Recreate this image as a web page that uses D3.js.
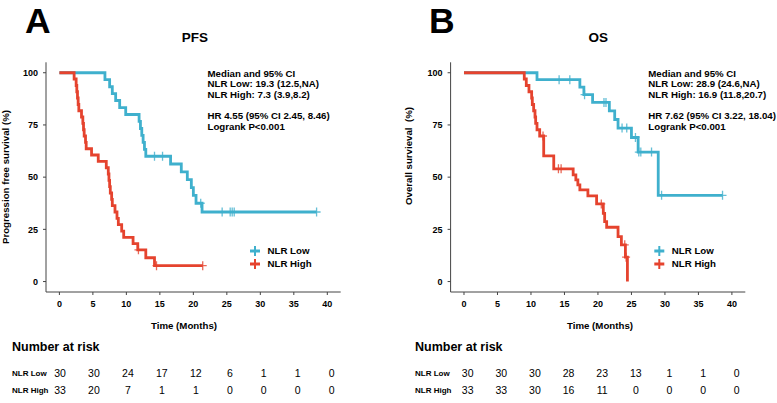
<!DOCTYPE html>
<html>
<head>
<meta charset="utf-8">
<script src="https://cdn.jsdelivr.net/npm/d3@7"></script>
<style>
  body { margin: 0; background: #fff; }
  svg { font-family: "Liberation Sans", Arial, sans-serif; }
</style>
</head>
<body>
<div id="chart"></div>
<script>
// ---- data ----
const timeTicks = [0, 5, 10, 15, 20, 25, 30, 35, 40]
const survTicks = [0, 25, 50, 75, 100]
const groups = ["NLR Low", "NLR High"]

// PFS, NLR Low (step times / survival %)
const pfsLowTime = [0, 6.8, 7.5, 7.9, 8.4, 9.0, 9.9, 11.9, 12.1, 12.3, 12.5, 12.7, 12.9, 16.6, 18.2, 19.1, 19.7, 20.0, 20.4, 21.3]
const pfsLowSurv = [100, 96.7, 93.3, 90.0, 86.7, 83.3, 80.0, 76.7, 73.3, 70.0, 66.7, 63.3, 60.0, 56.3, 52.5, 48.8, 45.0, 41.3, 37.5, 33.3]
const pfsLowCensor = [14.2, 15.4, 21.1, 24.3, 25.5, 25.8, 26.1, 38.4]

// PFS, NLR High
const pfsHighTime = [0, 2.2, 2.5, 2.6, 2.7, 2.8, 2.9, 3.3, 3.5, 3.6, 3.7, 3.9, 4.0, 4.8, 5.8, 7.0, 7.3, 7.4, 7.5, 7.6, 7.8, 7.9, 8.3, 8.6, 8.8, 9.3, 9.6, 11.0, 11.7, 12.9, 14.2]
const pfsHighSurv = [100, 97.0, 93.9, 90.9, 87.9, 84.8, 81.8, 78.8, 75.8, 72.7, 69.7, 66.7, 63.6, 60.6, 57.6, 54.5, 51.5, 48.5, 45.5, 42.4, 39.4, 36.4, 33.3, 30.3, 27.3, 24.2, 21.2, 18.2, 15.2, 11.4, 7.6]
const pfsHighCensor = [11.8, 14.5, 21.4]

// OS, NLR Low
const osLowTime = [0, 10.9, 17.3, 17.9, 19.2, 21.7, 22.5, 23.0, 25.0, 26.0, 29.0]
const osLowSurv = [100, 96.7, 93.1, 89.5, 85.8, 81.7, 77.6, 73.5, 69.0, 62.0, 41.3]
const osLowCensor = [14.2, 15.8, 18.0, 20.9, 21.2, 23.6, 24.3, 25.6, 26.1, 26.4, 28.0, 29.5, 38.6]

// OS, NLR High
const osHighTime = [0, 9.0, 9.3, 9.7, 10.1, 10.2, 10.4, 10.6, 10.7, 10.9, 11.3, 11.9, 13.4, 16.3, 16.7, 17.0, 17.3, 18.5, 19.8, 20.8, 21.0, 21.3, 23.0, 23.5, 24.1, 24.4]
const osHighSurv = [100, 97.0, 93.9, 90.9, 87.9, 84.8, 81.8, 78.8, 75.8, 72.7, 69.7, 60.2, 54.0, 51.1, 48.7, 46.3, 43.9, 41.0, 37.2, 32.7, 28.7, 26.0, 21.5, 17.6, 11.7, 0]
const osHighCensor = [11.8, 14.1, 14.5, 20.5, 24.0, 24.2]

// number at risk
const riskTimes = [0, 5, 10, 15, 20, 25, 30, 35, 40]
const riskPfsLow = [30, 30, 24, 17, 12, 6, 1, 1, 0]
const riskPfsHigh = [33, 20, 7, 1, 1, 0, 0, 0, 0]
const riskOsLow = [30, 30, 30, 28, 23, 13, 1, 1, 0]
const riskOsHigh = [33, 33, 30, 16, 11, 0, 0, 0, 0]

const notesPfs = ["Median and 95% CI", "NLR Low: 19.3 (12.5,NA)", "NLR High: 7.3 (3.9,8.2)", "", "HR 4.55 (95% CI 2.45, 8.46)", "Logrank P<0.001"]
const notesOs = ["Median and 95% CI", "NLR Low: 28.9 (24.6,NA)", "NLR High: 16.9 (11.8,20.7)", "", "HR 7.62 (95% CI 3.22, 18.04)", "Logrank P<0.001"]

// ---- drawing ----
let width = 777, height = 403
let colors = ["#3FB0CD", "#E5432E"]

let svg = d3.select("#chart")
    .append("svg")
    .attr("width", width)
    .attr("height", height)

let y = d3.scaleLinear().domain([-5, 105]).range([292, 62.3])

function stepValue(times, surv, t) {
    let v = surv[0]
    for (let i = 0; i < times.length; i++) {
        if (times[i] <= t) v = surv[i]
    }
    return v
}

function drawPanel(p) {
    let x = d3.scaleLinear().domain([-2, 42]).range([p.ox, p.ox + 294.7])
    let g = svg.append("g")

    // panel letter and title
    g.append("text").attr("x", p.letterX).attr("y", 32.5)
        .attr("font-size", 35.5).attr("font-weight", "bold").text(p.letter)
    g.append("text").attr("x", p.titleX).attr("y", 41.5).attr("text-anchor", "middle")
        .attr("font-size", 13.5).attr("font-weight", "bold").text(p.title)

    // axes
    g.append("line").attr("x1", p.ox).attr("x2", p.ox).attr("y1", y(105)).attr("y2", y(-5))
        .attr("stroke", "#444").attr("stroke-width", 1)
    g.append("line").attr("x1", p.ox).attr("x2", x(42)).attr("y1", y(-5)).attr("y2", y(-5))
        .attr("stroke", "#444").attr("stroke-width", 1)

    g.selectAll(".ytick").data(survTicks).enter().append("line")
        .attr("x1", p.ox - 3).attr("x2", p.ox)
        .attr("y1", d => y(d)).attr("y2", d => y(d))
        .attr("stroke", "#444")
    g.selectAll(".ylab").data(survTicks).enter().append("text")
        .attr("x", p.ox - 8).attr("y", d => y(d)).attr("dy", "0.35em")
        .attr("text-anchor", "end").attr("font-size", 9).attr("font-weight", "bold")
        .text(d => d)

    g.selectAll(".xtick").data(timeTicks).enter().append("line")
        .attr("x1", d => x(d)).attr("x2", d => x(d))
        .attr("y1", y(-5)).attr("y2", y(-5) + 3)
        .attr("stroke", "#444")
    g.selectAll(".xlab").data(timeTicks).enter().append("text")
        .attr("x", d => x(d)).attr("y", 306.5)
        .attr("text-anchor", "middle").attr("font-size", 9).attr("font-weight", "bold")
        .text(d => d)

    g.append("text").attr("x", p.xLabelX).attr("y", 328.5).attr("text-anchor", "middle")
        .attr("font-size", 9.7).attr("font-weight", "bold").text("Time (Months)")
    g.append("text")
        .attr("transform", "translate(" + p.yLabelX + "," + p.yLabelY + ") rotate(-90)")
        .attr("text-anchor", "middle").attr("font-size", 9.7).attr("font-weight", "bold")
        .attr("xml:space", "preserve")
        .text(p.yLabel)

    // curves
    let line = d3.line().curve(d3.curveStepAfter)
        .x(d => x(d[0])).y(d => y(d[1]))
    p.curves.forEach(function (c, i) {
        let pts = c.time.map((t, j) => [t, c.surv[j]])
        let end = Math.max(d3.max(c.time), d3.max(c.censor))
        pts.push([end, stepValue(c.time, c.surv, end)])
        g.append("path").attr("d", line(pts))
            .attr("fill", "none").attr("stroke", colors[i]).attr("stroke-width", 2.8)
        g.selectAll(".cens" + i).data(c.censor).enter().append("path")
            .attr("d", function (t) {
                let cx = x(t), cy = y(stepValue(c.time, c.surv, t))
                return "M" + (cx - 4) + "," + cy + "H" + (cx + 4) + "M" + cx + "," + (cy - 4.5) + "V" + (cy + 4.5)
            })
            .attr("stroke", colors[i]).attr("stroke-width", 1.3).attr("opacity", 0.8)
    })

    // notes
    g.selectAll(".note").data(p.notes).enter().append("text")
        .attr("x", p.noteX).attr("y", (d, i) => 76.5 + i * 10.7)
        .attr("font-size", 9.7).attr("font-weight", "bold")
        .text(d => d)

    // legend
    groups.forEach(function (name, i) {
        let ly = 251 + i * 13
        g.append("line").attr("x1", p.legX - 5).attr("x2", p.legX + 5).attr("y1", ly).attr("y2", ly)
            .attr("stroke", colors[i]).attr("stroke-width", 3)
        g.append("line").attr("x1", p.legX).attr("x2", p.legX).attr("y1", ly - 5).attr("y2", ly + 5)
            .attr("stroke", colors[i]).attr("stroke-width", 2)
        g.append("text").attr("x", p.legX + 12.5).attr("y", ly).attr("dy", "0.35em")
            .attr("font-size", 9.7).attr("font-weight", "bold").text(name)
    })

    // number at risk
    let xr = d3.scaleLinear().domain([0, 40]).range(p.riskRange)
    g.append("text").attr("x", p.riskX).attr("y", 351)
        .attr("font-size", 12.5).attr("font-weight", "bold").text("Number at risk")
    p.risk.forEach(function (row, i) {
        let ry = 373 + i * 17.5
        g.append("text").attr("x", p.riskX).attr("y", ry).attr("dy", "0.35em")
            .attr("font-size", 8).attr("font-weight", "bold").text(groups[i])
        g.selectAll(".risk" + i).data(row).enter().append("text")
            .attr("x", (d, j) => xr(riskTimes[j])).attr("y", ry).attr("dy", "0.38em")
            .attr("text-anchor", "middle").attr("font-size", 10.5)
            .text(d => d)
    })
}

drawPanel({
    ox: 46, letter: "A", letterX: 25, title: "PFS", titleX: 195,
    xLabelX: 184, yLabel: "Progression free survival (%)", yLabelX: 9, yLabelY: 177,
    curves: [
        { time: pfsLowTime, surv: pfsLowSurv, censor: pfsLowCensor },
        { time: pfsHighTime, surv: pfsHighSurv, censor: pfsHighCensor }
    ],
    notes: notesPfs, noteX: 207.5, legX: 255,
    risk: [riskPfsLow, riskPfsHigh], riskX: 12, riskRange: [60, 331.7]
})

drawPanel({
    ox: 450.6, letter: "B", letterX: 429, title: "OS", titleX: 598.3,
    xLabelX: 600, yLabel: "Overall survieval  (%)", yLabelX: 411.5, yLabelY: 156,
    curves: [
        { time: osLowTime, surv: osLowSurv, censor: osLowCensor },
        { time: osHighTime, surv: osHighSurv, censor: osHighCensor }
    ],
    notes: notesOs, noteX: 648.3, legX: 659.3,
    risk: [riskOsLow, riskOsHigh], riskX: 415, riskRange: [467.7, 736.7]
})
</script>
</body>
</html>
